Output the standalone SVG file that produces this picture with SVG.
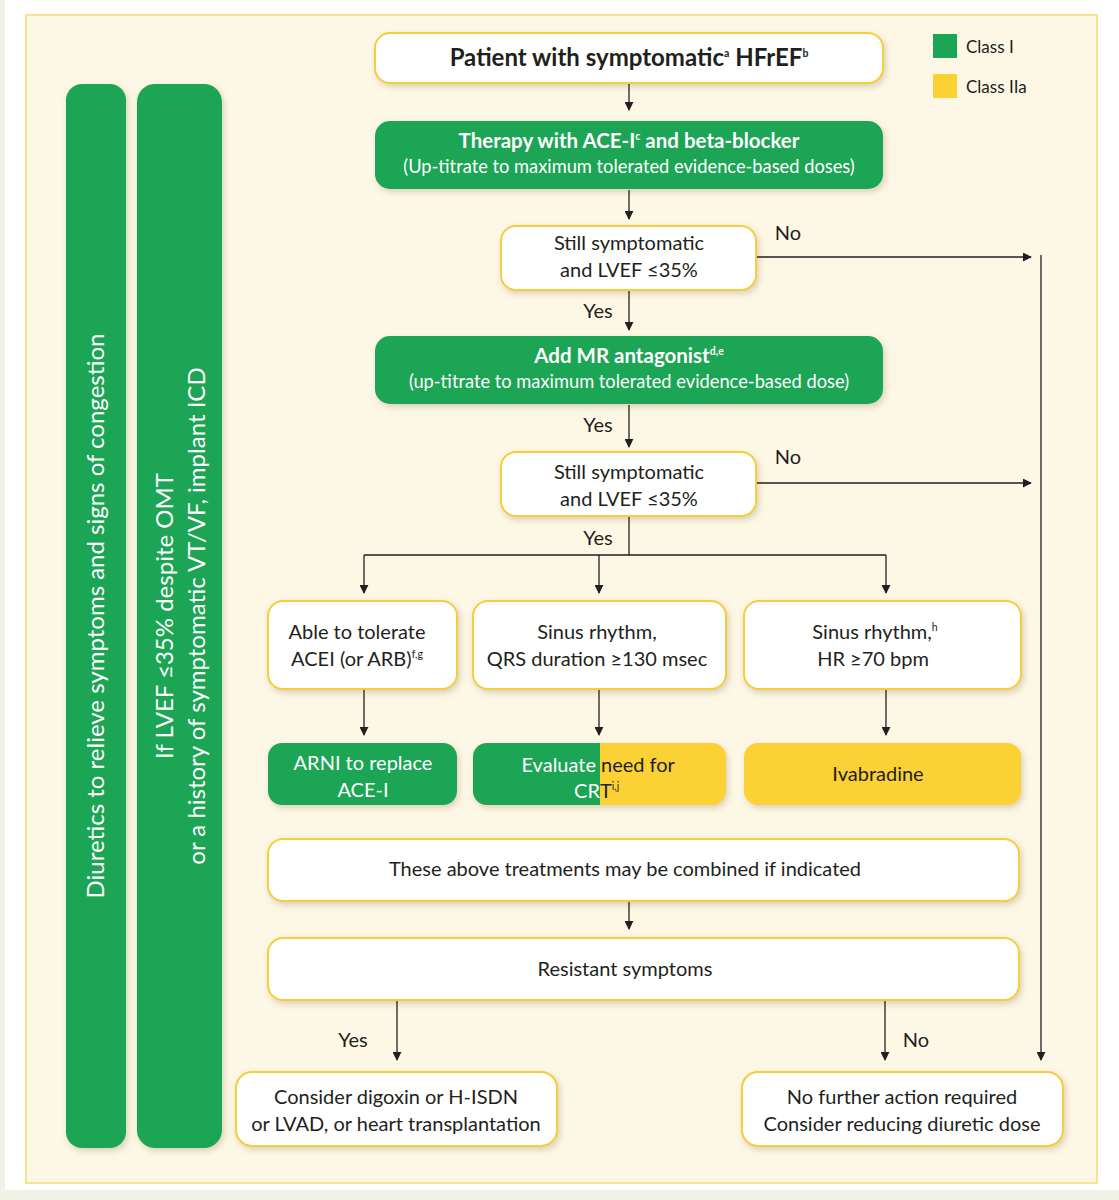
<svg xmlns="http://www.w3.org/2000/svg" width="1119" height="1200" viewBox="0 0 1119 1200">
<defs>
<style>
text{font-family:Lato,"Open Sans","Liberation Sans",sans-serif;fill:#231F20;text-anchor:middle}
.w{fill:#fff}
.b{font-weight:bold}
.wb{fill:#fff;stroke:#F6CD3A;stroke-width:2}
.g{fill:#1BA555}
.y{fill:#FBD136}
.ln{stroke:#231F20;stroke-width:1.3;fill:none}
.t18{font-size:20px}
.sup{font-size:10.5px}
</style>
<marker id="ah" viewBox="0 0 10 10" refX="9" refY="5" markerWidth="9" markerHeight="9" markerUnits="userSpaceOnUse" orient="auto">
<path d="M0,0 L10,5 L0,10 z" fill="#231F20"/>
</marker>
<filter id="sh" x="-10%" y="-10%" width="125%" height="130%">
<feDropShadow dx="2" dy="3" stdDeviation="3" flood-color="#8a7a50" flood-opacity="0.3"/>
</filter>
</defs>
<rect x="0" y="0" width="1119" height="1200" fill="#F1F1E5"/>
<rect x="5" y="0" width="1114" height="1190" fill="#fff"/>
<rect x="26" y="15" width="1071" height="1168" fill="#FDF7E5" stroke="#F9DC6E" stroke-width="1.5"/>

<g id="bar-diuretics">
<rect x="66" y="84" width="60" height="1064" rx="16" class="g" filter="url(#sh)"/>
<text transform="translate(104,616) rotate(-90)" class="w" font-size="24">Diuretics to relieve symptoms and signs of congestion</text>
</g>
<g id="bar-icd">
<rect x="137" y="84" width="85" height="1064" rx="18" class="g" filter="url(#sh)"/>
<text transform="translate(173,616) rotate(-90)" class="w" font-size="24">If LVEF ≤35% despite OMT</text>
<text transform="translate(205,616) rotate(-90)" class="w" font-size="24">or a history of symptomatic VT/VF, implant ICD</text>
</g>

<g id="legend">
<rect x="933" y="34" width="24" height="24" class="g"/>
<text x="966" y="53" font-size="17" style="text-anchor:start">Class I</text>
<rect x="933" y="74" width="24" height="24" class="y"/>
<text x="966" y="93" font-size="17" style="text-anchor:start">Class IIa</text>
</g>

<g id="n-patient">
<rect x="375" y="33" width="508" height="50" rx="15" class="wb" filter="url(#sh)"/>
<text x="629" y="66" class="b" font-size="24">Patient with symptomatic<tspan class="sup" dy="-9">a</tspan><tspan dy="9"> HFrEF</tspan><tspan class="sup" dy="-9">b</tspan></text>
</g>
<g id="n-acei">
<rect x="375" y="121" width="508" height="68" rx="15" class="g" filter="url(#sh)"/>
<text x="629" y="148" class="w b" font-size="20.5">Therapy with ACE-I<tspan class="sup" dy="-8">c</tspan><tspan dy="8"> and beta-blocker</tspan></text>
<text x="629" y="173" class="w" font-size="18.3">(Up-titrate to maximum tolerated evidence-based doses)</text>
</g>
<g id="n-still1">
<rect x="501" y="226" width="255" height="64" rx="15" class="wb" filter="url(#sh)"/>
<text x="629" y="250" class="t18">Still symptomatic</text>
<text x="629" y="277" class="t18">and LVEF ≤35%</text>
</g>
<g id="n-mra">
<rect x="375" y="336" width="508" height="68" rx="15" class="g" filter="url(#sh)"/>
<text x="629" y="363" class="w b" font-size="20.5">Add MR antagonist<tspan class="sup" dy="-8">d,e</tspan></text>
<text x="629" y="388" class="w" font-size="18.3">(up-titrate to maximum tolerated evidence-based dose)</text>
</g>
<g id="n-still2">
<rect x="501" y="452" width="255" height="64" rx="15" class="wb" filter="url(#sh)"/>
<text x="629" y="479" class="t18">Still symptomatic</text>
<text x="629" y="506" class="t18">and LVEF ≤35%</text>
</g>
<g id="n-acei-tol">
<rect x="268" y="601" width="189" height="88" rx="15" class="wb" filter="url(#sh)"/>
<text x="357" y="639" class="t18">Able to tolerate</text>
<text x="357" y="666" class="t18">ACEI (or ARB)<tspan class="sup" dy="-8">f,g</tspan></text>
</g>
<g id="n-qrs">
<rect x="473" y="601" width="253" height="88" rx="15" class="wb" filter="url(#sh)"/>
<text x="597" y="639" class="t18">Sinus rhythm,</text>
<text x="597" y="666" class="t18">QRS duration ≥130 msec</text>
</g>
<g id="n-hr">
<rect x="744" y="601" width="277" height="88" rx="15" class="wb" filter="url(#sh)"/>
<text x="875" y="639" class="t18">Sinus rhythm,<tspan class="sup" dy="-8">h</tspan></text>
<text x="873" y="666" class="t18">HR ≥70 bpm</text>
</g>
<g id="n-arni">
<rect x="268" y="743" width="189" height="62" rx="14" class="g" filter="url(#sh)"/>
<text x="363" y="770" class="w t18">ARNI to replace</text>
<text x="363" y="797" class="w t18">ACE-I</text>
</g>
<g id="n-crt">
<clipPath id="crtclip"><rect x="473" y="743" width="253" height="62" rx="14"/></clipPath>
<rect x="473" y="743" width="253" height="62" rx="14" class="y" filter="url(#sh)"/>
<rect x="473" y="743" width="127" height="62" class="g" clip-path="url(#crtclip)"/>
<text x="596" y="772" class="w t18" style="text-anchor:end">Evaluate</text>
<text x="601" y="772" class="t18" style="text-anchor:start">need for</text>
<text x="600" y="798" class="w t18" style="text-anchor:end">CR</text>
<text x="600" y="798" class="t18" style="text-anchor:start">T<tspan class="sup" dy="-8">i,j</tspan></text>
</g>
<g id="n-ivab">
<rect x="744" y="743" width="277" height="62" rx="14" class="y" filter="url(#sh)"/>
<text x="878" y="781" class="t18">Ivabradine</text>
</g>
<g id="n-combined">
<rect x="268" y="839" width="751" height="62" rx="15" class="wb" filter="url(#sh)"/>
<text x="625" y="876" class="t18">These above treatments may be combined if indicated</text>
</g>
<g id="n-resistant">
<rect x="268" y="938" width="751" height="62" rx="15" class="wb" filter="url(#sh)"/>
<text x="625" y="976" class="t18">Resistant symptoms</text>
</g>
<g id="n-digoxin">
<rect x="236" y="1072" width="321" height="74" rx="16" class="wb" filter="url(#sh)"/>
<text x="396" y="1104" class="t18">Consider digoxin or H-ISDN</text>
<text x="396" y="1131" class="t18">or LVAD, or heart transplantation</text>
</g>
<g id="n-nofurther">
<rect x="742" y="1072" width="321" height="74" rx="16" class="wb" filter="url(#sh)"/>
<text x="902" y="1104" class="t18">No further action required</text>
<text x="902" y="1131" class="t18">Consider reducing diuretic dose</text>
</g>

<g id="connectors">
<line x1="629" y1="84" x2="629" y2="110" class="ln" marker-end="url(#ah)"/>
<line x1="629" y1="190" x2="629" y2="219" class="ln" marker-end="url(#ah)"/>
<line x1="757" y1="257" x2="1031" y2="257" class="ln" marker-end="url(#ah)"/>
<line x1="629" y1="291" x2="629" y2="330" class="ln" marker-end="url(#ah)"/>
<line x1="629" y1="405" x2="629" y2="447" class="ln" marker-end="url(#ah)"/>
<line x1="757" y1="483" x2="1031" y2="483" class="ln" marker-end="url(#ah)"/>
<line x1="629" y1="517" x2="629" y2="555" class="ln"/>
<line x1="364" y1="555" x2="886" y2="555" class="ln"/>
<line x1="364" y1="555" x2="364" y2="593" class="ln" marker-end="url(#ah)"/>
<line x1="599" y1="555" x2="599" y2="593" class="ln" marker-end="url(#ah)"/>
<line x1="886" y1="555" x2="886" y2="593" class="ln" marker-end="url(#ah)"/>
<line x1="364" y1="690" x2="364" y2="735" class="ln" marker-end="url(#ah)"/>
<line x1="599" y1="690" x2="599" y2="735" class="ln" marker-end="url(#ah)"/>
<line x1="886" y1="690" x2="886" y2="735" class="ln" marker-end="url(#ah)"/>
<line x1="629" y1="902" x2="629" y2="929" class="ln" marker-end="url(#ah)"/>
<line x1="397" y1="1001" x2="397" y2="1060" class="ln" marker-end="url(#ah)"/>
<line x1="885" y1="1001" x2="885" y2="1060" class="ln" marker-end="url(#ah)"/>
<line x1="1041" y1="255" x2="1041" y2="1060" class="ln" marker-end="url(#ah)"/>
<text x="788" y="240" class="t18">No</text>
<text x="788" y="464" class="t18">No</text>
<text x="598" y="318" class="t18">Yes</text>
<text x="598" y="432" class="t18">Yes</text>
<text x="598" y="545" class="t18">Yes</text>
<text x="353" y="1047" class="t18">Yes</text>
<text x="916" y="1047" class="t18">No</text>
</g>
</svg>
